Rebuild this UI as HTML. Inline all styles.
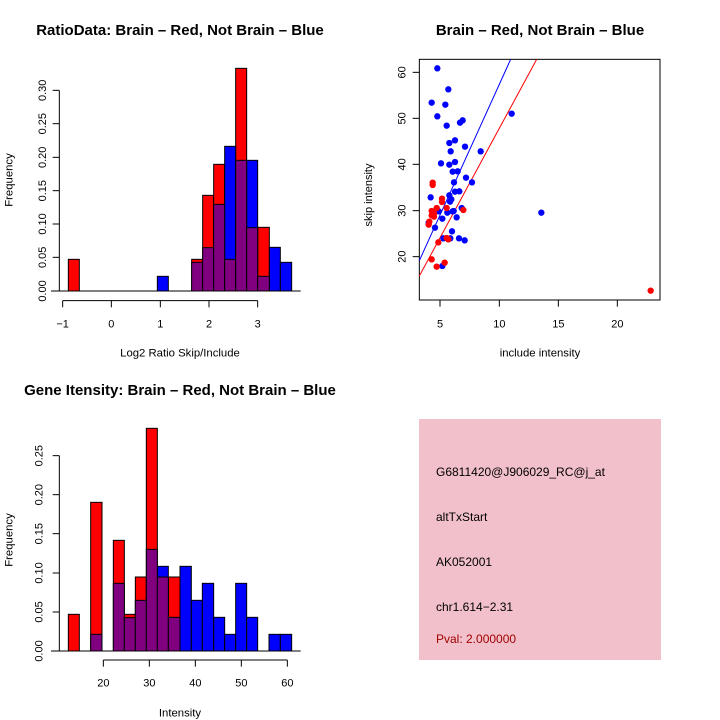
<!DOCTYPE html>
<html><head><meta charset="utf-8"><style>
body{margin:0;background:#fff;}
svg{display:block;font-family:"Liberation Sans",sans-serif;}
circle{r:9.5px;}
</style></head><body>
<svg width="720" height="720" viewBox="0 0 720 720" xmlns="http://www.w3.org/2000/svg">
<rect width="720" height="720" fill="#fff"/>
<g font-weight="bold" font-size="15" text-anchor="middle">
<text x="180" y="35">RatioData: Brain – Red, Not Brain – Blue</text>
<text x="540" y="35">Brain – Red, Not Brain – Blue</text>
<text x="180" y="395">Gene Itensity: Brain – Red, Not Brain – Blue</text>
</g>

<!-- top-left histogram -->
<g transform="translate(0,50) scale(0.33333)" stroke="#000" stroke-width="3">
<g fill="#f00">
<rect x="205" y="628" width="33" height="95"/>
<rect x="575" y="628" width="33" height="95"/>
<rect x="608" y="436" width="33" height="287"/>
<rect x="641" y="343" width="33" height="380"/>
<rect x="707" y="55" width="33" height="668"/>
<rect x="773" y="532" width="35" height="191"/>
</g>
<g fill="#00f">
<rect x="472" y="679" width="33" height="44"/>
<rect x="674" y="289" width="33" height="434"/>
<rect x="740" y="331" width="33" height="392"/>
<rect x="808" y="592" width="33" height="131"/>
<rect x="841" y="637" width="34" height="86"/>
</g>
<g fill="#800080">
<rect x="575" y="637" width="33" height="86"/>
<rect x="608" y="593" width="33" height="130"/>
<rect x="641" y="463" width="33" height="260"/>
<rect x="674" y="628" width="33" height="95"/>
<rect x="707" y="331" width="33" height="392"/>
<rect x="740" y="533" width="33" height="190"/>
<rect x="773" y="679" width="35" height="44"/>
</g>
<line x1="153" y1="723" x2="902" y2="723"/>
<line x1="178" y1="121" x2="178" y2="723"/>
<g>
<line x1="158" y1="723" x2="178" y2="723"/><line x1="158" y1="622" x2="178" y2="622"/>
<line x1="158" y1="522" x2="178" y2="522"/><line x1="158" y1="422" x2="178" y2="422"/>
<line x1="158" y1="322" x2="178" y2="322"/><line x1="158" y1="221" x2="178" y2="221"/>
<line x1="158" y1="121" x2="178" y2="121"/>
</g>
<line x1="188" y1="752" x2="773" y2="752"/>
<line x1="188" y1="752" x2="188" y2="772"/><line x1="334" y1="752" x2="334" y2="772"/>
<line x1="481" y1="752" x2="481" y2="772"/><line x1="627" y1="752" x2="627" y2="772"/>
<line x1="773" y1="752" x2="773" y2="772"/>
<g stroke="none" fill="#000" font-size="33" text-anchor="middle">
<text x="188" y="832">−1</text><text x="334" y="832">0</text><text x="481" y="832">1</text>
<text x="627" y="832">2</text><text x="773" y="832">3</text>
<text x="540" y="920" font-size="34">Log2 Ratio Skip/Include</text>
<text transform="translate(138,723) rotate(-90)">0.00</text>
<text transform="translate(138,622) rotate(-90)">0.05</text>
<text transform="translate(138,522) rotate(-90)">0.10</text>
<text transform="translate(138,422) rotate(-90)">0.15</text>
<text transform="translate(138,322) rotate(-90)">0.20</text>
<text transform="translate(138,221) rotate(-90)">0.25</text>
<text transform="translate(138,121) rotate(-90)">0.30</text>
<text transform="translate(38,390) rotate(-90)" font-size="34">Frequency</text>
</g>
</g>

<!-- scatter -->
<g transform="translate(380,50) scale(0.33333)">
<rect x="118" y="28" width="722" height="722" fill="none" stroke="#000" stroke-width="3"/>
<line x1="118" y1="632" x2="392" y2="28" stroke="#00f" stroke-width="3"/>
<line x1="118" y1="678" x2="470" y2="28" stroke="#f00" stroke-width="3"/>
<g fill="#00f">
<circle cx="172" cy="55" r="9.5"/><circle cx="205" cy="118" r="9.5"/><circle cx="155" cy="158" r="9.5"/><circle cx="196" cy="164" r="9.5"/><circle cx="172" cy="199" r="9.5"/><circle cx="200" cy="227" r="9.5"/><circle cx="240" cy="218" r="9.5"/><circle cx="248" cy="211" r="9.5"/><circle cx="395" cy="191" r="9.5"/><circle cx="208" cy="279" r="9.5"/><circle cx="225" cy="271" r="9.5"/><circle cx="255" cy="290" r="9.5"/><circle cx="212" cy="304" r="9.5"/><circle cx="302" cy="304" r="9.5"/><circle cx="183" cy="340" r="9.5"/><circle cx="208" cy="344" r="9.5"/><circle cx="225" cy="336" r="9.5"/><circle cx="218" cy="365" r="9.5"/><circle cx="233" cy="364" r="9.5"/><circle cx="258" cy="383" r="9.5"/><circle cx="276" cy="397" r="9.5"/><circle cx="222" cy="397" r="9.5"/><circle cx="208" cy="436" r="9.5"/><circle cx="214" cy="448" r="9.5"/><circle cx="225" cy="425" r="9.5"/><circle cx="238" cy="424" r="9.5"/><circle cx="210" cy="455" r="9.5"/><circle cx="245" cy="474" r="9.5"/><circle cx="152" cy="442" r="9.5"/><circle cx="176" cy="484" r="9.5"/><circle cx="202" cy="488" r="9.5"/><circle cx="218" cy="484" r="9.5"/><circle cx="187" cy="506" r="9.5"/><circle cx="230" cy="502" r="9.5"/><circle cx="146" cy="518" r="9.5"/><circle cx="165" cy="533" r="9.5"/><circle cx="216" cy="544" r="9.5"/><circle cx="190" cy="565" r="9.5"/><circle cx="211" cy="565" r="9.5"/><circle cx="237" cy="565" r="9.5"/><circle cx="254" cy="571" r="9.5"/><circle cx="187" cy="648" r="9.5"/><circle cx="484" cy="488" r="9.5"/><circle cx="221" cy="483" r="9.5"/>
</g>
<g fill="#f00">
<circle cx="158" cy="398" r="9.5"/><circle cx="158" cy="405" r="9.5"/><circle cx="186" cy="446" r="9.5"/><circle cx="186" cy="456" r="9.5"/><circle cx="155" cy="483" r="9.5"/><circle cx="170" cy="474" r="9.5"/><circle cx="200" cy="474" r="9.5"/><circle cx="250" cy="480" r="9.5"/><circle cx="155" cy="496" r="9.5"/><circle cx="162" cy="500" r="9.5"/><circle cx="148" cy="515" r="9.5"/><circle cx="146" cy="524" r="9.5"/><circle cx="175" cy="577" r="9.5"/><circle cx="200" cy="564" r="9.5"/><circle cx="205" cy="568" r="9.5"/><circle cx="155" cy="628" r="9.5"/><circle cx="170" cy="650" r="9.5"/><circle cx="194" cy="638" r="9.5"/><circle cx="812" cy="722" r="9.5"/><circle cx="162" cy="490" r="9.5"/>
</g>
<g stroke="#000" stroke-width="3">
<line x1="98" y1="620" x2="118" y2="620"/><line x1="98" y1="482" x2="118" y2="482"/><line x1="98" y1="343" x2="118" y2="343"/><line x1="98" y1="205" x2="118" y2="205"/><line x1="98" y1="67" x2="118" y2="67"/>
<line x1="180" y1="750" x2="180" y2="770"/><line x1="358" y1="750" x2="358" y2="770"/><line x1="535" y1="750" x2="535" y2="770"/><line x1="712" y1="750" x2="712" y2="770"/>
</g>
<g fill="#000" font-size="33" text-anchor="middle">
<text x="180" y="832">5</text><text x="358" y="832">10</text><text x="535" y="832">15</text><text x="712" y="832">20</text>
<text transform="translate(77,620) rotate(-90)">20</text>
<text transform="translate(77,482) rotate(-90)">30</text>
<text transform="translate(77,343) rotate(-90)">40</text>
<text transform="translate(77,205) rotate(-90)">50</text>
<text transform="translate(77,67) rotate(-90)">60</text>
<text x="480" y="920" font-size="34">include intensity</text>
</g>
</g>
<text transform="translate(372,195) rotate(-90)" font-size="11" text-anchor="middle">skip intensity</text>

<!-- bottom-left histogram -->
<g transform="translate(0,420) scale(0.33333)" stroke="#000" stroke-width="3">
<g fill="#f00">
<rect x="205" y="583" width="33" height="110"/>
<rect x="272" y="247" width="34" height="446"/>
<rect x="340" y="361" width="33" height="332"/>
<rect x="373" y="583" width="33" height="110"/>
<rect x="406" y="471" width="33" height="222"/>
<rect x="439" y="25" width="33" height="668"/>
<rect x="505" y="471" width="35" height="222"/>
</g>
<g fill="#00f">
<rect x="472" y="439" width="33" height="254"/>
<rect x="540" y="439" width="34" height="254"/>
<rect x="574" y="541" width="33" height="152"/>
<rect x="607" y="490" width="34" height="203"/>
<rect x="641" y="592" width="33" height="101"/>
<rect x="674" y="643" width="33" height="50"/>
<rect x="707" y="490" width="33" height="203"/>
<rect x="740" y="592" width="33" height="101"/>
<rect x="807" y="643" width="34" height="50"/>
<rect x="841" y="643" width="34" height="50"/>
</g>
<g fill="#800080">
<rect x="272" y="643" width="34" height="50"/>
<rect x="340" y="490" width="33" height="203"/>
<rect x="373" y="593" width="33" height="100"/>
<rect x="406" y="541" width="33" height="152"/>
<rect x="439" y="388" width="33" height="305"/>
<rect x="472" y="471" width="33" height="222"/>
<rect x="505" y="592" width="35" height="101"/>
</g>
<line x1="153" y1="693" x2="902" y2="693"/>
<line x1="178" y1="107" x2="178" y2="693"/>
<line x1="158" y1="693" x2="178" y2="693"/><line x1="158" y1="576" x2="178" y2="576"/>
<line x1="158" y1="459" x2="178" y2="459"/><line x1="158" y1="341" x2="178" y2="341"/>
<line x1="158" y1="224" x2="178" y2="224"/><line x1="158" y1="107" x2="178" y2="107"/>
<line x1="310" y1="720" x2="862" y2="720"/>
<line x1="310" y1="720" x2="310" y2="740"/><line x1="448" y1="720" x2="448" y2="740"/>
<line x1="586" y1="720" x2="586" y2="740"/><line x1="724" y1="720" x2="724" y2="740"/>
<line x1="862" y1="720" x2="862" y2="740"/>
<g stroke="none" fill="#000" font-size="33" text-anchor="middle">
<text x="310" y="800">20</text><text x="448" y="800">30</text><text x="586" y="800">40</text>
<text x="724" y="800">50</text><text x="862" y="800">60</text>
<text x="540" y="890" font-size="34">Intensity</text>
<text transform="translate(128,693) rotate(-90)">0.00</text>
<text transform="translate(128,576) rotate(-90)">0.05</text>
<text transform="translate(128,459) rotate(-90)">0.10</text>
<text transform="translate(128,341) rotate(-90)">0.15</text>
<text transform="translate(128,224) rotate(-90)">0.20</text>
<text transform="translate(128,107) rotate(-90)">0.25</text>
<text transform="translate(38,360) rotate(-90)" font-size="34">Frequency</text>
</g>
</g>

<!-- info box -->
<rect x="419" y="419" width="242" height="241" fill="#f2c0cb"/>
<g font-size="12" fill="#000">
<text x="436" y="476">G6811420@J906029_RC@j_at</text>
<text x="436" y="521">altTxStart</text>
<text x="436" y="566">AK052001</text>
<text x="436" y="611">chr1.614−2.31</text>
<text x="436" y="643" fill="#a00000">Pval: 2.000000</text>
</g>
</svg>
</body></html>
